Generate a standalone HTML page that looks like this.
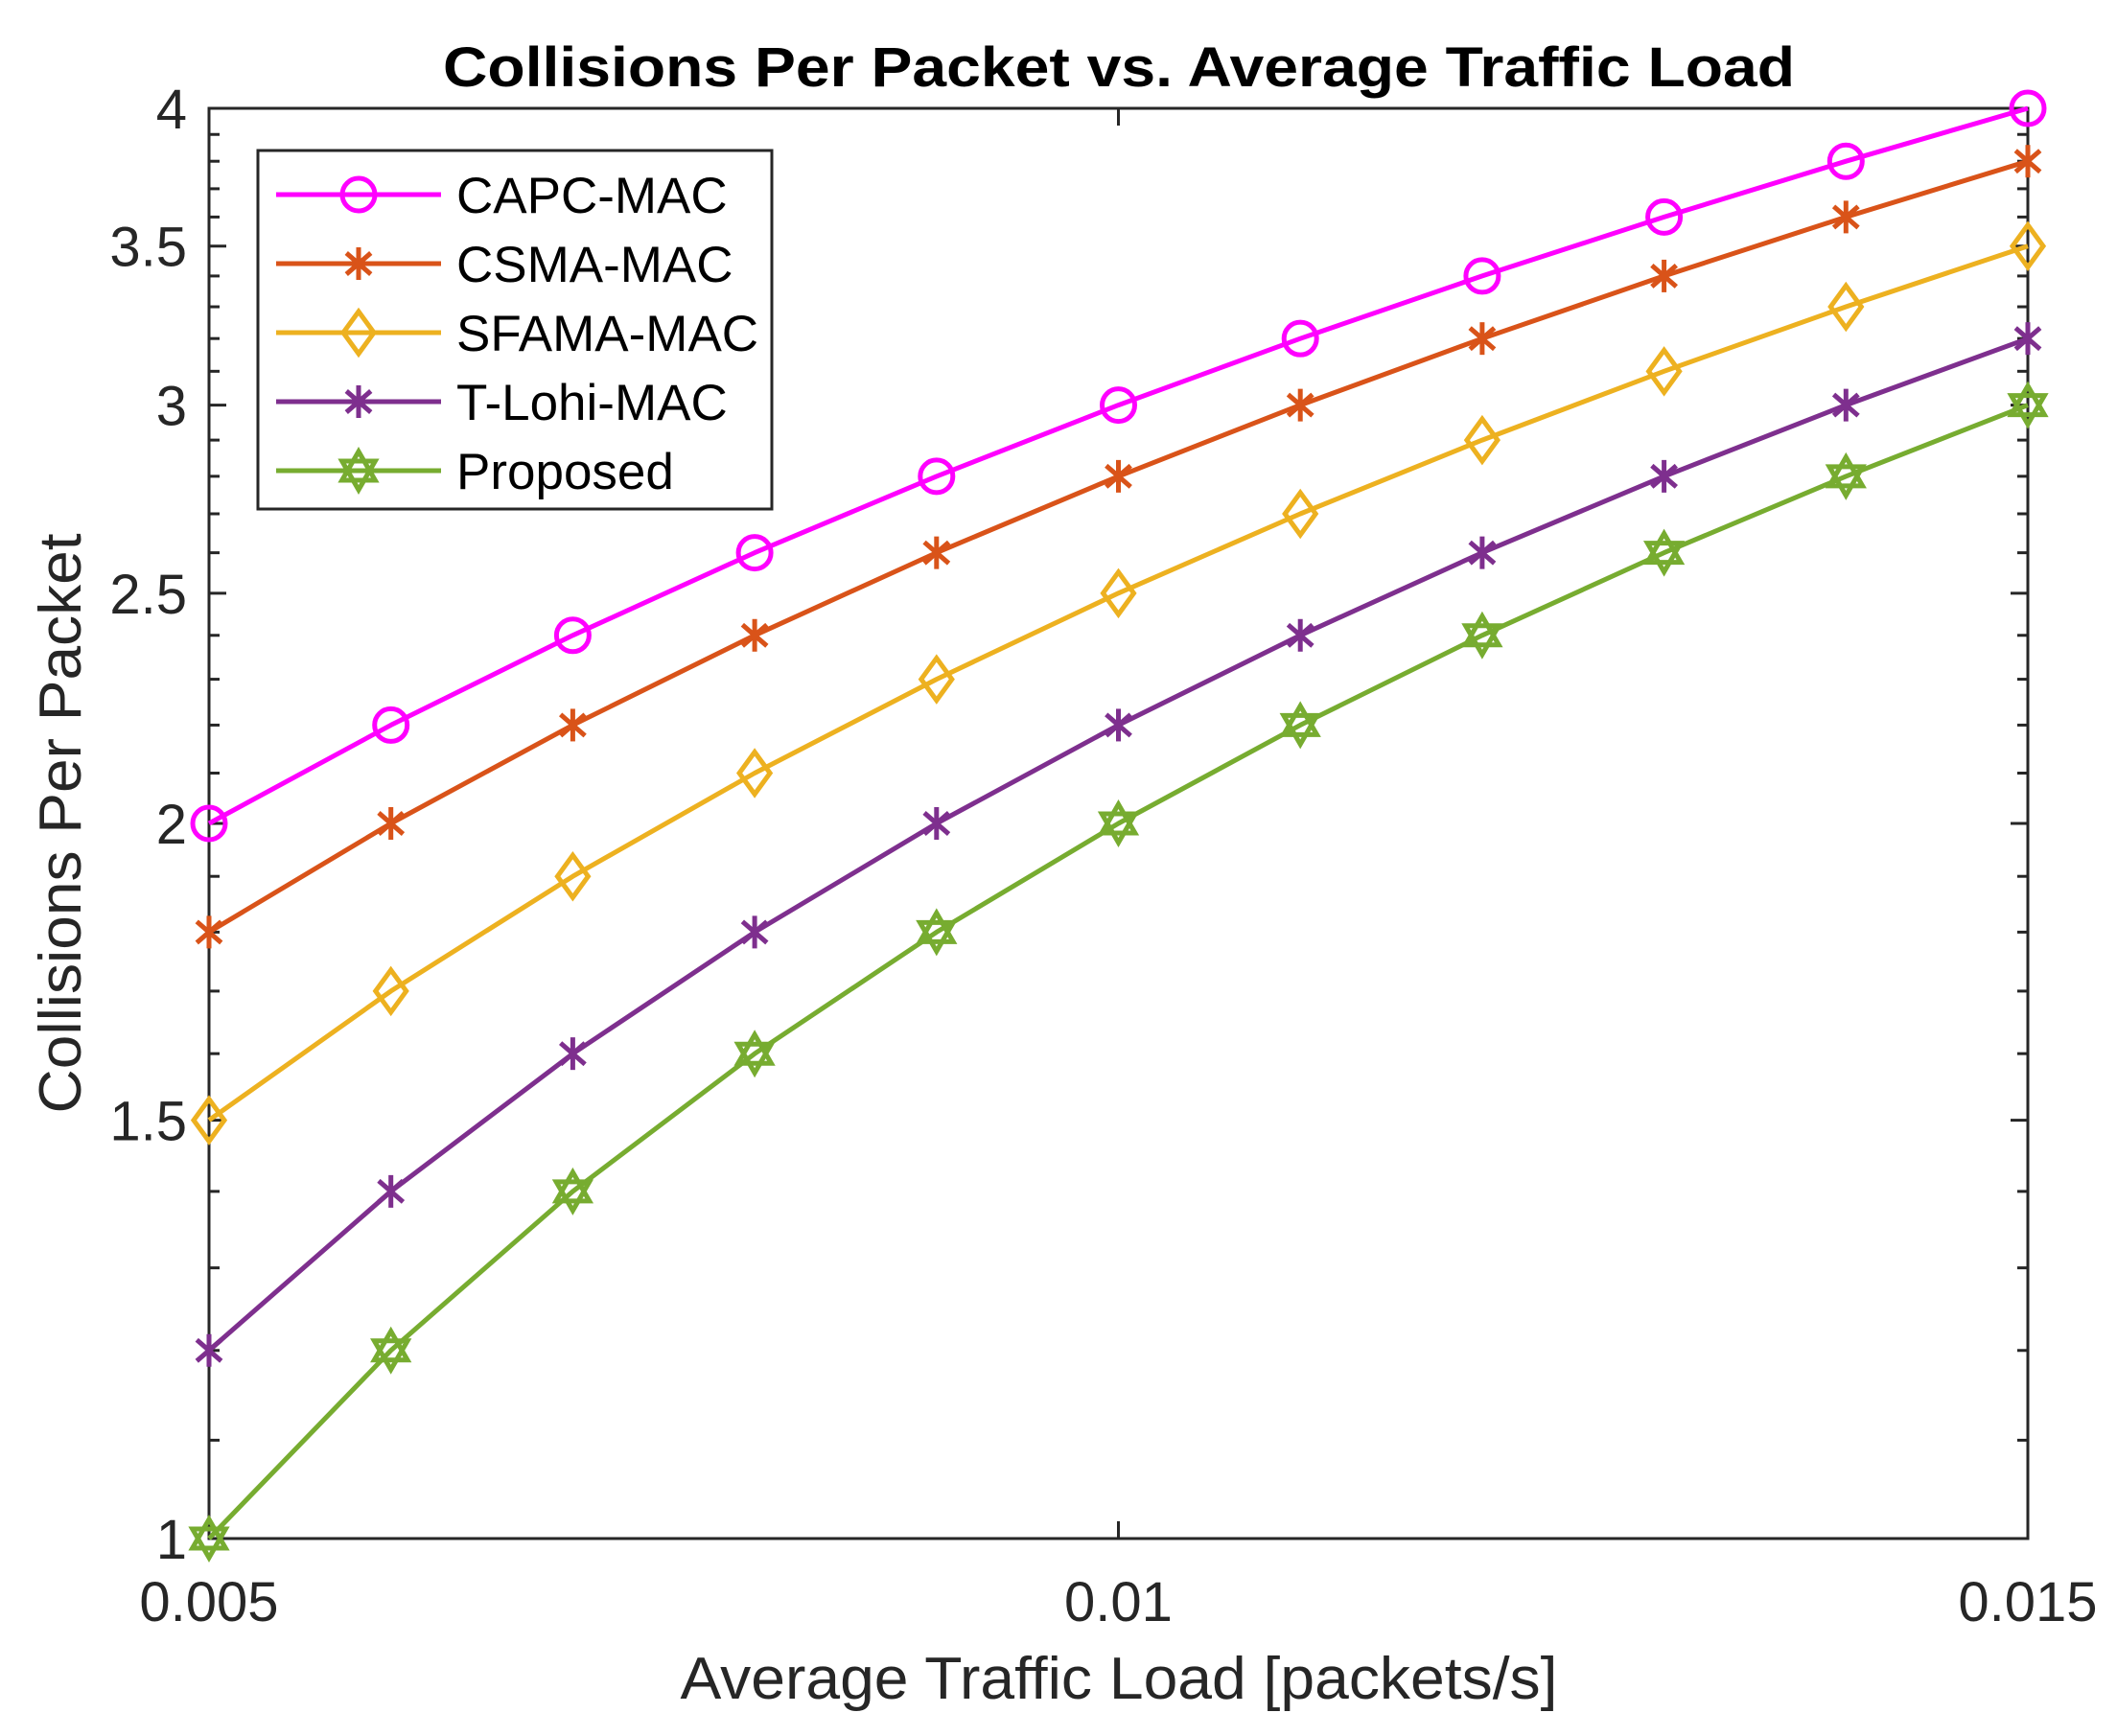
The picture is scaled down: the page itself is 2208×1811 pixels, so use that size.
<!DOCTYPE html>
<html><head><meta charset="utf-8"><style>
html,body{margin:0;padding:0;background:#fff;}
svg{display:block;font-family:"Liberation Sans",Arial,sans-serif;}
</style></head><body>
<svg id="chart" width="2208" height="1811" viewBox="0 0 2208 1811" xmlns="http://www.w3.org/2000/svg">
<rect width="2208" height="1811" fill="#fff"/>
<text x="1167" y="90" text-anchor="middle" font-size="58" font-weight="bold" textLength="1410" lengthAdjust="spacingAndGlyphs">Collisions Per Packet vs. Average Traffic Load</text>
<text x="1167" y="1772" text-anchor="middle" font-size="62" fill="#262626" textLength="915" lengthAdjust="spacingAndGlyphs">Average Traffic Load [packets/s]</text>
<text transform="translate(84,859) rotate(-90)" text-anchor="middle" font-size="62" fill="#262626" textLength="605" lengthAdjust="spacingAndGlyphs">Collisions Per Packet</text>
<g id="axes"></g>
<g id="series"></g>
<g id="legend"></g>
</svg>
<script>
const xValues = [0.005,0.006,0.007,0.008,0.009,0.010,0.011,0.012,0.013,0.014,0.015];
const capcMac = [2.0,2.2,2.4,2.6,2.8,3.0,3.2,3.4,3.6,3.8,4.0];
const csmaMac = [1.8,2.0,2.2,2.4,2.6,2.8,3.0,3.2,3.4,3.6,3.8];
const sfamaMac = [1.5,1.7,1.9,2.1,2.3,2.5,2.7,2.9,3.1,3.3,3.5];
const tlohiMac = [1.2,1.4,1.6,1.8,2.0,2.2,2.4,2.6,2.8,3.0,3.2];
const proposed = [1.0,1.2,1.4,1.6,1.8,2.0,2.2,2.4,2.6,2.8,3.0];
const seriesNames = ["CAPC-MAC","CSMA-MAC","SFAMA-MAC","T-Lohi-MAC","Proposed"];
const xTicks = [0.005,0.01,0.015];
const xTickLabels = ["0.005","0.01","0.015"];
const yTicks = [1,1.5,2,2.5,3,3.5,4];
const yTickLabels = ["1","1.5","2","2.5","3","3.5","4"];

const NS="http://www.w3.org/2000/svg";
const L=218,R=2115,T=113,B=1605;
const xMin=0.005,xMax=0.015,yMin=1,yMax=4;
function xs(v){return L+(v-xMin)/(xMax-xMin)*(R-L);}
function ys(v){return B-Math.log(v/yMin)/Math.log(yMax/yMin)*(B-T);}
function mk(tag,attrs,parent){const e=document.createElementNS(NS,tag);for(const k in attrs)e.setAttribute(k,attrs[k]);parent.appendChild(e);return e;}

const axes=document.getElementById('axes');
const ax="#262626";
xTicks.forEach((t,i)=>{
  const x=xs(t);
  const a=mk('line',{x1:x,y1:B,x2:x,y2:B-18,stroke:ax,'stroke-width':3},axes);
  
  
  const b=mk('line',{x1:x,y1:T,x2:x,y2:T+18,stroke:ax,'stroke-width':3},axes);
  
  
  const tx=mk('text',{x:x,y:1691,'text-anchor':'middle','font-size':58,fill:ax},axes);
  tx.textContent=xTickLabels[i];
  
  
});
for(let k=10;k<=40;k++){
  const v=k/10;
  const major=(k%5===0);
  const y=ys(v);
  const len=major?18:11;
  const a=mk('line',{x1:L,y1:y,x2:L+len,y2:y,stroke:ax,'stroke-width':3},axes);
  
  
  const b=mk('line',{x1:R,y1:y,x2:R-len,y2:y,stroke:ax,'stroke-width':3},axes);
  
  
}
yTicks.forEach((t,i)=>{
  const tx=mk('text',{x:195,y:ys(t)+21,'text-anchor':'end','font-size':58,fill:ax},axes);
  tx.textContent=yTickLabels[i];
  
  
});
const frame=mk('rect',{x:L,y:T,width:R-L,height:B-T,fill:'none',stroke:ax,'stroke-width':3},axes);



function marker(type,cx,cy,color,parent){
  const g=mk('g',{},parent);
  const sw=5;
  if(type==='circle'){mk('circle',{cx:cx,cy:cy,r:17,fill:'none',stroke:color,'stroke-width':sw},g);}
  else if(type==='diamond'){mk('polygon',{points:`${cx},${cy-22} ${cx+16},${cy} ${cx},${cy+22} ${cx-16},${cy}`,fill:'none',stroke:color,'stroke-width':sw},g);}
  else if(type==='asterisk'){
    const r=17;
    mk('line',{x1:cx,y1:cy-r,x2:cx,y2:cy+r,stroke:color,'stroke-width':sw},g);
    mk('line',{x1:cx-r*0.75,y1:cy-r*0.65,x2:cx+r*0.75,y2:cy+r*0.65,stroke:color,'stroke-width':sw},g);
    mk('line',{x1:cx-r*0.75,y1:cy+r*0.65,x2:cx+r*0.75,y2:cy-r*0.65,stroke:color,'stroke-width':sw},g);
  } else if(type==='hexagram'){
    const r=20,pts1=[],pts2=[];
    for(let i=0;i<3;i++){const a=-Math.PI/2+i*2*Math.PI/3;pts1.push((cx+r*Math.cos(a)).toFixed(1)+','+(cy+r*Math.sin(a)).toFixed(1));}
    for(let i=0;i<3;i++){const a=Math.PI/2+i*2*Math.PI/3;pts2.push((cx+r*Math.cos(a)).toFixed(1)+','+(cy+r*Math.sin(a)).toFixed(1));}
    mk('polygon',{points:pts1.join(' '),fill:'none',stroke:color,'stroke-width':sw},g);
    mk('polygon',{points:pts2.join(' '),fill:'none',stroke:color,'stroke-width':sw},g);
  }
  return g;
}

const seriesData=[capcMac,csmaMac,sfamaMac,tlohiMac,proposed];
const colors=["#FF00FF","#D95319","#EDB120","#7E2F8E","#77AC30"];
const markers=["circle","asterisk","diamond","asterisk","hexagram"];
const keys=["capc-mac","csma-mac","sfama-mac","t-lohi-mac","proposed"];
const sg=document.getElementById('series');
seriesData.forEach((d,si)=>{
  const g=mk('g',{},sg);
  
  
  const pts=d.map((v,i)=>xs(xValues[i]).toFixed(1)+','+ys(v).toFixed(1)).join(' ');
  const pl=mk('polyline',{points:pts,fill:'none',stroke:colors[si],'stroke-width':5,'stroke-linejoin':'round'},g);
  
  
  d.forEach((v,i)=>{
    const m=marker(markers[si],xs(xValues[i]),ys(v),colors[si],g);
    
    
  });
});

const lg=document.getElementById('legend');
const box=mk('rect',{x:269,y:157,width:536,height:374,fill:'#fff',stroke:ax,'stroke-width':3},lg);


const ly=[203,275,347,419,491];
seriesNames.forEach((n,si)=>{
  const g=mk('g',{},lg);
  
  
  mk('line',{x1:288,y1:ly[si],x2:460,y2:ly[si],stroke:colors[si],'stroke-width':5},g);
  marker(markers[si],374,ly[si],colors[si],g);
  const t=mk('text',{x:476,y:ly[si]+19,'font-size':53,fill:'#000'},g);
  t.textContent=n;
});
</script>
</body></html>
